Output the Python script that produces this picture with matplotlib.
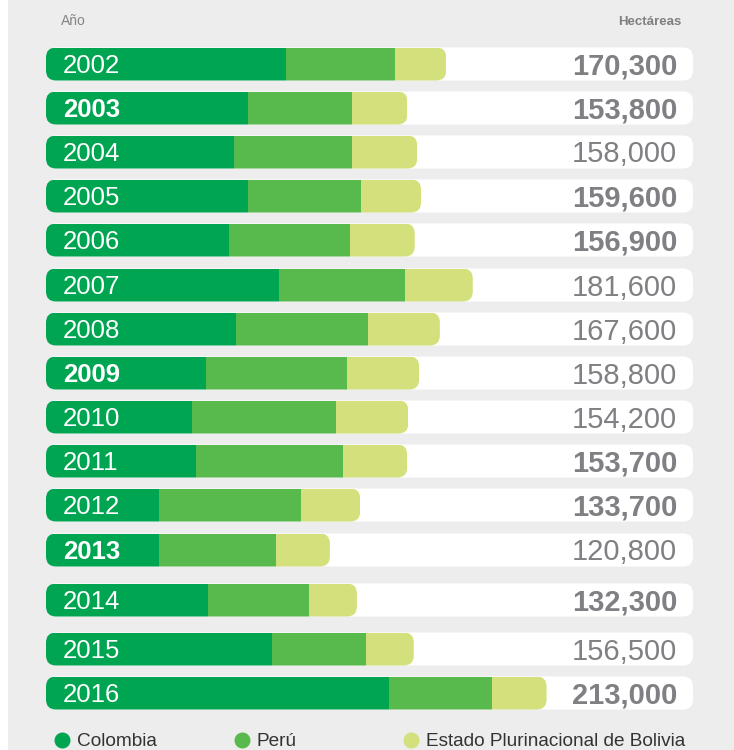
import matplotlib
matplotlib.use('Agg')
import matplotlib.pyplot as plt
from matplotlib.patches import FancyBboxPatch, Rectangle
from matplotlib.lines import Line2D

# superficie de coca (miles de hectareas)
years = ['2002', '2003', '2004', '2005', '2006', '2007', '2008', '2009',
         '2010', '2011', '2012', '2013', '2014', '2015', '2016']
colombia = [102.0, 86.0, 80.0, 86.0, 78.0, 99.0, 81.0, 68.0,
            62.0, 64.0, 48.0, 48.0, 69.0, 96.0, 146.0]
peru = [46.7, 44.2, 50.3, 48.2, 51.4, 53.7, 56.1, 59.9,
        61.2, 62.5, 60.4, 49.8, 42.9, 40.3, 43.9]
bolivia = [21.6, 23.6, 27.7, 25.4, 27.5, 28.9, 30.5, 30.9,
           31.0, 27.2, 25.3, 23.0, 20.4, 20.2, 23.1]
totals = ['170,300', '153,800', '158,000', '159,600', '156,900', '181,600', '167,600', '158,800',
          '154,200', '153,700', '133,700', '120,800', '132,300', '156,500', '213,000']
series_names = ['Colombia', 'Perú', 'Estado Plurinacional de Bolivia']

bold_years = ['2003', '2009', '2013']
bold_totals = ['170,300', '153,800', '159,600', '156,900', '153,700', '133,700', '132,300', '213,000']

colors = ['#00a551', '#58b94c', '#d3e07b']
plain = ['Liberation Sans', 'DejaVu Sans']

W, H = 734, 750
px = 2.35      # pixels por mil ha
x0 = 46        # inicio de las barras (px)
row_y = [64, 108, 152, 196, 240, 285, 329, 373, 417, 461, 505, 550, 600, 649, 693]
bar_h = 33
rad = 10

fig = plt.figure(figsize=(W / 100, H / 100), dpi=100)
fig.patch.set_facecolor('white')
ax = fig.add_axes([0, 0, 1, 1])
ax.set_xlim(-x0 / px, (W - x0) / px)
ax.set_ylim(H, 0)
ax.axis('off')

ax.add_patch(Rectangle((8 / W, 0), 1, 1, transform=ax.transAxes,
                       facecolor='#ededed', edgecolor='none', zorder=0))

def rounded(width, y):
    return FancyBboxPatch((0, y - bar_h / 2), width, bar_h,
                          boxstyle='round,pad=0,rounding_size=%f' % (rad / px),
                          mutation_aspect=px, transform=ax.transData)

track_w = (693 - x0) / px
for i in range(len(years)):
    track = rounded(track_w, row_y[i])
    track.set_facecolor('white')
    track.set_edgecolor('none')
    track.set_zorder(1)
    ax.add_patch(track)

lefts = [0] * len(years)
for vals, c in zip([colombia, peru, bolivia], colors):
    bars = ax.barh(row_y, vals, height=bar_h, left=lefts, color=c, zorder=2, linewidth=0)
    for i, b in enumerate(bars):
        tot = colombia[i] + peru[i] + bolivia[i]
        b.set_clip_path(rounded(tot, row_y[i]))
    lefts = [l + v for l, v in zip(lefts, vals)]

tr = ax.get_yaxis_transform()  # x en fraccion, y en datos
for i in range(len(years)):
    ax.text(63 / W, row_y[i] + 9.3, years[i], transform=tr, color='white', fontsize=18.5,
            family=plain, va='baseline', ha='left', zorder=3,
            fontweight='bold' if years[i] in bold_years else 'normal')
    ax.text(677 / W, row_y[i] + 10.5, totals[i], transform=tr, color='#808084', fontsize=21,
            family=plain, va='baseline', ha='right', zorder=3,
            fontweight='bold' if totals[i] in bold_totals else 'normal')

ax.text(61 / W, 25, 'Año', transform=tr, color='#848484', fontsize=10,
        family=plain, va='baseline', ha='left')
ax.text(681 / W, 25, 'Hectáreas', transform=tr, color='#808080', fontsize=9.5,
        family=plain, fontweight='bold', va='baseline', ha='right')

# leyenda
leg_x = [62, 242, 411]
for name, c, lx in zip(series_names, colors, leg_x):
    ax.add_line(Line2D([lx / W], [740], transform=tr, marker='o', markersize=10.5,
                       color=c, linestyle='none', clip_on=False))
    ax.text((lx + 15) / W, 745.5, name, transform=tr, color='#333333', fontsize=13.7,
            family=plain, va='baseline', ha='left')

fig.savefig('out.png', dpi=100, facecolor=fig.get_facecolor())
